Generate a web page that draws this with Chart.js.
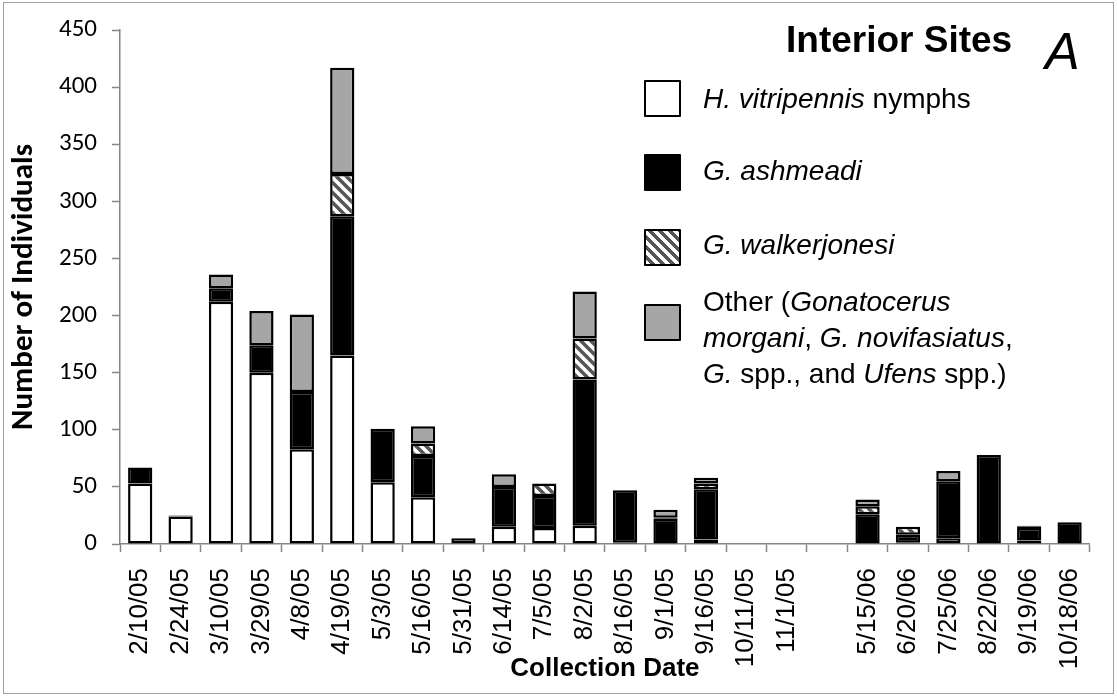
<!DOCTYPE html>
<html>
<head>
<meta charset="utf-8">
<script src="https://cdn.jsdelivr.net/npm/chart.js@4/dist/chart.umd.min.js"></script>
<style>
  body { margin: 0; background: #fff; }
  #wrap { position: relative; width: 1117px; height: 696px; }
  #frame { position: absolute; left: 3px; top: 2px; width: 1109px; height: 690px; border: 1px solid #a0a0a0; pointer-events: none; }
  .txt { position: absolute; font-family: 'Liberation Sans', Arial, sans-serif; color: #000; white-space: nowrap; }
  .leg { font-size: 28px; line-height: 36px; left: 703px; }
  .box { position: absolute; left: 644px; width: 33px; height: 33px; border: 2px solid #000; border-radius: 1px; }
</style>
</head>
<body>
<div id="wrap">
  <canvas id="myChart" width="1117" height="696"></canvas>
  <div id="frame"></div>
  <div class="txt" style="left:786px; top:17px; font-size:37px; line-height:46px; font-weight:bold;">Interior Sites</div>
  <div class="txt" style="left:1045px; top:21px; font-size:52px; line-height:60px; font-style:italic;">A</div>

  <div class="box" style="top:80px; background:#fff;"></div>
  <div class="box" style="top:154px; background:#000;"></div>
  <div class="box" style="top:229px; background:repeating-linear-gradient(45deg, #fff 0px, #fff 3.5px, #555 3.5px, #555 7px);"></div>
  <div class="box" style="top:304px; background:#a6a6a6;"></div>

  <div class="txt leg" style="top:81px;"><i>H. vitripennis</i> nymphs</div>
  <div class="txt leg" style="top:153px;"><i>G. ashmeadi</i></div>
  <div class="txt leg" style="top:227px;"><i>G. walkerjonesi</i></div>
  <div class="txt leg" style="top:284px;">Other (<i>Gonatocerus</i><br><i>morgani</i>, <i>G. novifasiatus</i>,<br><i>G.</i> spp., and <i>Ufens</i> spp.)</div>
</div>
<script>
'use strict';

// collection dates (blank slot = gap between seasons)
let dates = ['2/10/05', '2/24/05', '3/10/05', '3/29/05', '4/8/05', '4/19/05', '5/3/05', '5/16/05',
    '5/31/05', '6/14/05', '7/5/05', '8/2/05', '8/16/05', '9/1/05', '9/16/05', '10/11/05', '11/1/05', '',
    '5/15/06', '6/20/06', '7/25/06', '8/22/06', '9/19/06', '10/18/06'];

let nymphs   = [53, 24, 212, 150, 83, 165, 54, 41, 5, 15, 14, 16, 1, 0, 4, 0, 0, 0, 0, 1, 5, 0, 3, 0];
let ashmeadi = [14, 1, 12, 24, 50, 122, 47, 36, 0, 35, 28, 128, 46, 22, 44, 0, 0, 0, 26, 7, 50, 78, 11, 19];
let walker   = [0, 0, 0, 0, 0, 37, 0, 11, 0, 0, 11, 36, 0, 1, 5, 0, 0, 0, 7, 7, 0, 0, 1, 0];
let other    = [0, 0, 12, 30, 68, 93, 0, 15, 0, 11, 0, 41, 0, 7, 5, 0, 0, 0, 6, 0, 9, 0, 1, 0];

let yMax = 450;
let yStep = 50;

function hatch() {
    let c = document.createElement('canvas');
    c.width = 10;
    c.height = 10;
    let g = c.getContext('2d');
    g.fillStyle = '#fff';
    g.fillRect(0, 0, 10, 10);
    g.strokeStyle = '#555';
    g.lineWidth = 3.5;
    g.beginPath();
    g.moveTo(-5, -5); g.lineTo(15, 15);
    g.moveTo(-5, 5); g.lineTo(5, 15);
    g.moveTo(5, -5); g.lineTo(15, 5);
    g.stroke();
    return g.createPattern(c, 'repeat');
}

let ctx = document.getElementById('myChart').getContext('2d');
let axisGray = '#868686';

function series(label, data, fill) {
    return {
        label: label,
        data: data,
        backgroundColor: fill,
        borderColor: '#000',
        borderWidth: 2.5,
        borderSkipped: false,
        barPercentage: 0.6,
        categoryPercentage: 1.0
    };
}

new Chart(ctx, {
    type: 'bar',
    data: {
        labels: dates,
        datasets: [
            series('H. vitripennis nymphs', nymphs, '#fff'),
            series('G. ashmeadi', ashmeadi, '#000'),
            series('G. walkerjonesi', walker, hatch()),
            series('Other', other, '#a6a6a6')
        ]
    },
    options: {
        responsive: false,
        animation: false,
        devicePixelRatio: 1,
        layout: { padding: { top: 19, right: 10, left: 0, bottom: 0 } },
        plugins: {
            legend: { display: false },
            tooltip: { enabled: false }
        },
        scales: {
            x: {
                stacked: true,
                offset: true,
                grid: { display: true, drawOnChartArea: false, offset: true, tickLength: 8, tickColor: axisGray, tickWidth: 1.5 },
                border: { color: axisGray, width: 1.5 },
                ticks: {
                    autoSkip: false, maxRotation: 90, minRotation: 90, padding: 16,
                    color: '#000', font: { family: "'Liberation Sans', Arial, sans-serif", size: 26 }
                },
                title: {
                    display: true, text: 'Collection Date', color: '#000',
                    font: { family: "'Liberation Sans', Arial, sans-serif", size: 26, weight: 'bold' },
                    padding: { top: 0, bottom: 12 }
                },
                afterFit: function (scale) { scale.height = 152; }
            },
            y: {
                stacked: true,
                min: 0,
                max: yMax,
                grid: { display: true, drawOnChartArea: false, tickLength: 8, tickColor: axisGray, tickWidth: 1.5 },
                border: { color: axisGray, width: 1.5 },
                ticks: {
                    stepSize: yStep, padding: 15, color: '#000',
                    font: { family: "Carlito, Lato, sans-serif", size: 25 }
                },
                title: {
                    display: true, text: 'Number of Individuals', color: '#000',
                    font: { family: "Carlito, Lato, sans-serif", size: 31, weight: 'bold' },
                    padding: { top: 6, bottom: 0 }
                },
                afterFit: function (scale) { scale.width = 120; }
            }
        }
    }
});
</script>
</body>
</html>
